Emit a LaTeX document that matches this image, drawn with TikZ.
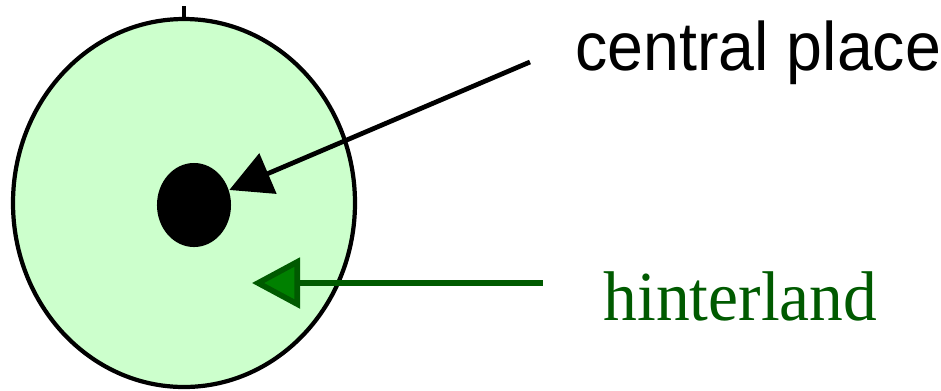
\documentclass[tikz,border=0pt]{standalone}
\usepackage{fontspec}
\usepackage{xcolor}
\usepackage{tikz}
\usetikzlibrary{
	arrows.meta,
	shapes.geometric,
	positioning
}
\newfontfamily\labelsans{Liberation Sans}
\newfontfamily\labelserif{Liberation Serif}
\definecolor{PaleGreen}{RGB}{204,255,204}
\definecolor{HinterGreen}{RGB}{0,90,0}
\definecolor{HeadGreen}{RGB}{0,128,0}

\begin{document}
\begin{tikzpicture}[x=0.01cm, y=-0.01cm,
	region/.style={draw=black, line width=1.2pt, fill=PaleGreen},
	town/.style={ellipse, fill=black, inner sep=0pt, minimum width=0.74cm, minimum height=0.84cm},
	pointer/.style={line width=1.35pt, -{Triangle[length=0.42cm, width=0.43cm]}},
	greenpointer/.style={draw=HinterGreen, line width=1.6pt, -{Triangle[length=0.48cm, width=0.50cm, fill=HeadGreen]}}
	]
	\useasboundingbox (0,0) rectangle (941,390);
	
	% Hinterland (grosse Ellipse)
	\draw[region] (184,203) ellipse (171 and 184);
	\draw[line width=1.1pt] (184,6) -- (184,19);
	
	% Zentraler Ort
	\node[town] (dot) at (194,205) {};
	
	% Beschriftungen
	\node[anchor=base west, inner sep=0pt, xscale=0.94, font=\labelsans\fontsize{19.5}{19.5}\selectfont] (cplace) at (575,70) {central place};
	\node[anchor=base west, inner sep=0pt, xscale=0.96, text=HinterGreen, font=\labelserif\fontsize{20}{20}\selectfont] (hinter) at (603,320) {hinterland};
	
	% Pfeile
	\coordinate (cp tail) at (530,62);
	\coordinate (hl tail) at (543,283);
	\coordinate (hl tip) at (252,283);
	\draw[pointer] (cp tail) -- (dot);
	\draw[greenpointer] (hl tail) -- (hl tip);
\end{tikzpicture}
\end{document}
